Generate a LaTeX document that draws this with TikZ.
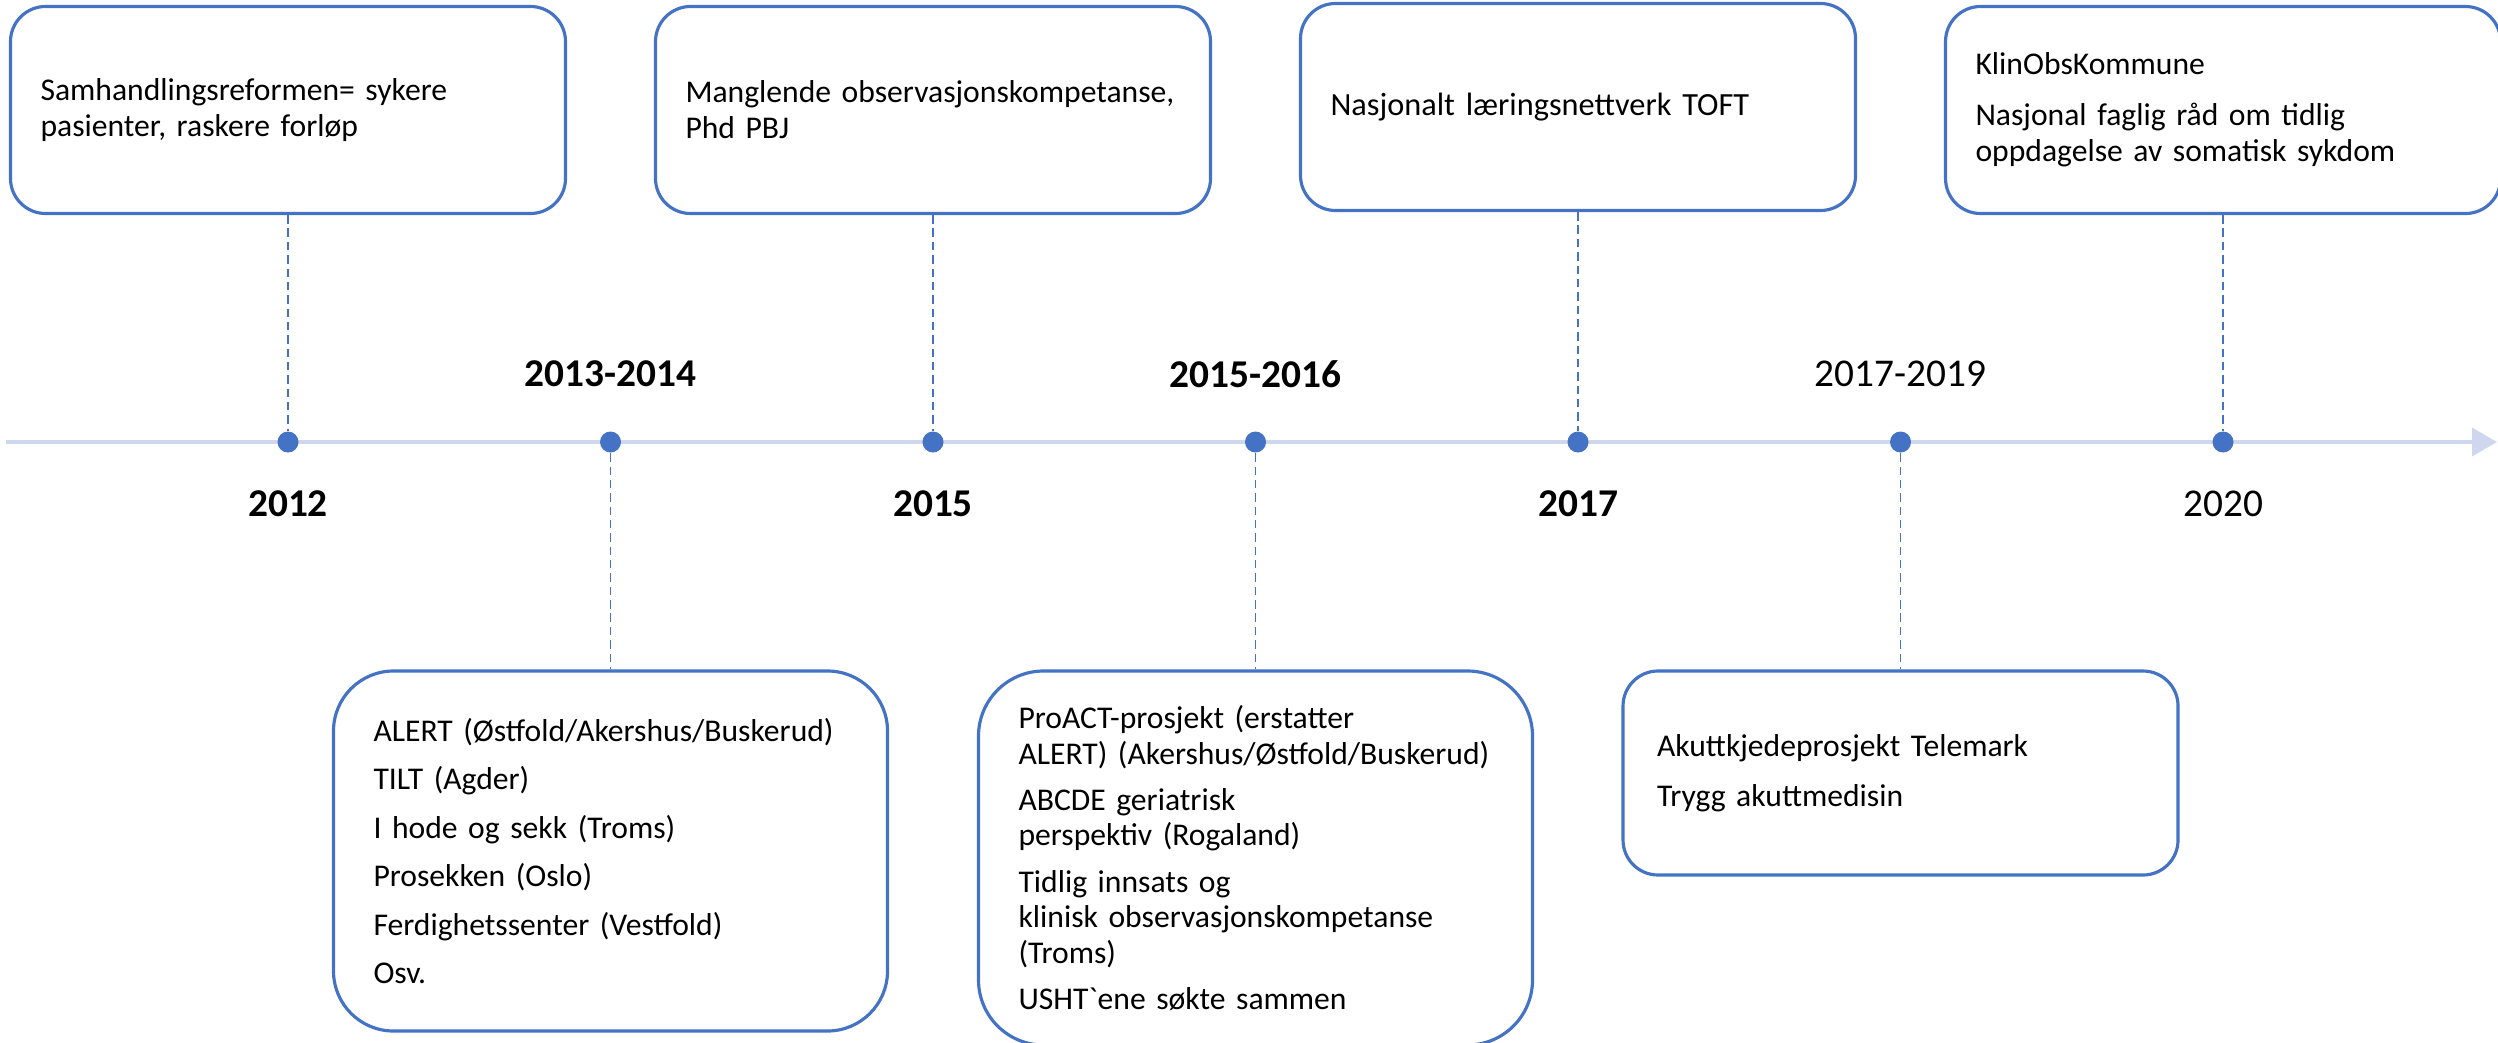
\documentclass[tikz,border=0pt]{standalone}
\usepackage{fontspec}
\setmainfont{Carlito}
\usetikzlibrary{arrows.meta}
\definecolor{boxblue}{HTML}{4472C4}
\definecolor{lineblue}{HTML}{CFD7EE}
\newcommand{\boxfont}{\fontsize{9pt}{10.2pt}\selectfont}
\newcommand{\yearfont}{\fontsize{11.2pt}{13pt}\selectfont}
\begin{document}
\begin{tikzpicture}[
node distance=3.225cm,
topbox/.style={
draw=boxblue,
line width=0.9pt,
rounded corners=0.35cm,
minimum height=2.07cm,
text width=4.95cm,
inner xsep=0.3cm,
align=left,
font=\boxfont
},
lowbox/.style={topbox, inner xsep=0.4cm, text width=4.74cm},
dot/.style={circle, fill=boxblue, inner sep=0pt, minimum size=0.21cm},
yearbold/.style={font=\yearfont\bfseries},
yearplain/.style={font=\yearfont},
dashline/.style={draw=boxblue, line width=0.4pt, dash pattern=on 2.4pt off 1.4pt},
timeline/.style={draw=lineblue, line width=0.95pt, -{Triangle[length=0.25cm, width=0.28cm]}}
]
\useasboundingbox (0,0) rectangle (24.98,-10.42);
% timeline
\coordinate (tstart) at (0.06,-4.42);
\coordinate (tend) at (24.97,-4.42);
\draw[timeline] (tstart) -- (tend);
\node[dot] (d2012) at (2.88,-4.42) {};
\node[dot] (d2013) [right of=d2012] {};
\node[dot] (d2015) [right of=d2013] {};
\node[dot] (d2016) [right of=d2015] {};
\node[dot] (d2017) [right of=d2016] {};
\node[dot] (d2019) [right of=d2017] {};
\node[dot] (d2020) [right of=d2019] {};
% years
\node[yearbold] (y2012) [below of=d2012, node distance=0.62cm] {2012};
\node[yearbold] (y2013) [above of=d2013, node distance=0.68cm] {2013-2014};
\node[yearbold] (y2015) [below of=d2015, node distance=0.62cm] {2015};
\node[yearbold] (y2016) [above of=d2016, node distance=0.68cm] {2015-2016};
\node[yearbold] (y2017) [below of=d2017, node distance=0.62cm] {2017};
\node[yearplain] (y2019) [above of=d2019, node distance=0.68cm] {2017-2019};
\node[yearplain] (y2020) [below of=d2020, node distance=0.62cm] {2020};
% boxes above
\node[topbox] (samhandling) [above of=d2012, node distance=3.32cm] {Samhandlingsreformen= sykere\\pasienter, raskere forløp};
\node[topbox] (observasjon) [above of=d2015, node distance=3.32cm] {Manglende observasjonskompetanse,\\Phd PBJ};
\node[topbox, font=\fontsize{9.2pt}{11pt}\selectfont] (toft) [above of=d2017, node distance=3.35cm] {Nasjonalt læringsnettverk TOFT};
\node[topbox] (klinobs) [above of=d2020, node distance=3.32cm] {KlinObsKommune\\[4.3pt]Nasjonal faglig råd om tidlig\\oppdagelse av somatisk sykdom};
% boxes below
\node[lowbox, rounded corners=0.6cm, minimum height=3.6cm] (alert) [below of=d2013, node distance=4.09cm] {ALERT (Østfold/Akershus/Buskerud)\\[3.6pt]TILT (Agder)\\[3.6pt]I hode og sekk (Troms)\\[3.6pt]Prosekken (Oslo)\\[3.6pt]Ferdighetssenter (Vestfold)\\[3.6pt]Osv.};
\node[lowbox, rounded corners=0.65cm, minimum height=3.74cm] (proact) [below of=d2016, node distance=4.16cm] {ProACT-prosjekt (erstatter\\ALERT) (Akershus/Østfold/Buskerud)\\[2.9pt]ABCDE geriatrisk\\perspektiv (Rogaland)\\[2.9pt]Tidlig innsats og\\klinisk observasjonskompetanse\\(Troms)\\[2.9pt]USHT\textasciigrave ene søkte sammen};
\node[lowbox, inner xsep=0.34cm, text width=4.87cm, minimum height=2.04cm] (akutt) [below of=d2019, node distance=3.31cm] {Akuttkjedeprosjekt Telemark\\[4pt]Trygg akuttmedisin};
% connectors
\draw[dashline] (samhandling) -- (d2012);
\draw[dashline] (observasjon) -- (d2015);
\draw[dashline] (toft) -- (d2017);
\draw[dashline] (klinobs) -- (d2020);
\draw[dashline] (d2013) -- (alert);
\draw[dashline] (d2016) -- (proact);
\draw[dashline] (d2019) -- (akutt);
\end{tikzpicture}
\end{document}
